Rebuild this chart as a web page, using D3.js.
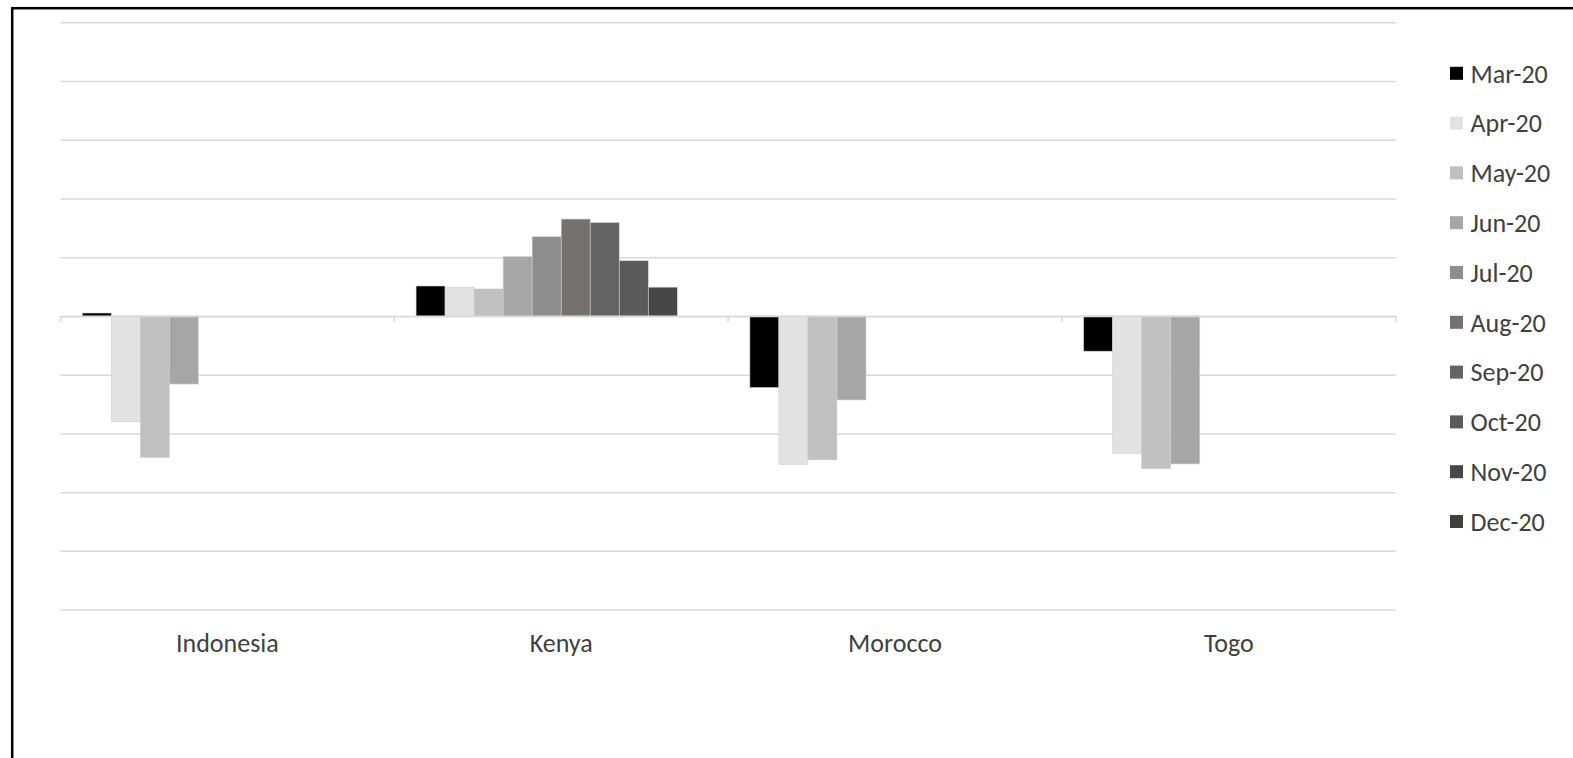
<!DOCTYPE html>
<html>
<head>
<meta charset="utf-8">
<script src="https://cdn.jsdelivr.net/npm/d3@7"></script>
<style>
  html, body { margin: 0; padding: 0; background: #fff; }
  svg { display: block; }
  text { font-family: Carlito, Calibri, "Open Sans", "Liberation Sans", sans-serif; fill: #404040; }
</style>
</head>
<body>
<svg id="chart" width="1573" height="758"></svg>
<script>
// ---- data ----
const categories = ["Indonesia", "Kenya", "Morocco", "Togo"];
const months = ["Mar-20", "Apr-20", "May-20", "Jun-20", "Jul-20", "Aug-20", "Sep-20", "Oct-20", "Nov-20", "Dec-20"];
const indonesia = [0.05, -1.80, -2.41, -1.16, null, null, null, null, null, null];
const kenya     = [0.51, 0.49, 0.46, 1.01, 1.35, 1.65, 1.59, 0.94, 0.49, null];
const morocco   = [-1.22, -2.53, -2.45, -1.43, null, null, null, null, null, null];
const togo      = [-0.60, -2.34, -2.60, -2.52, null, null, null, null, null, null];
const yTicks = [-5, -4, -3, -2, -1, 0, 1, 2, 3, 4, 5];
const colors = ["#000000", "#e2e2e2", "#c0c0c0", "#a6a6a6", "#8e8e8e", "#767171", "#646464", "#5a5a5a", "#474747", "#404040"];

const seriesByCat = { "Indonesia": indonesia, "Kenya": kenya, "Morocco": morocco, "Togo": togo };

const svg = d3.select("#chart");

// frame
svg.append("rect").attr("x", 12.2).attr("y", 8.2).attr("width", 1700).attr("height", 900)
  .attr("fill", "none").attr("stroke", "#000").attr("stroke-width", 2.5);

const plotLeft = 60.5, plotRight = 1395.7, plotTop = 22.3, plotBottom = 609.6;

const y = d3.scaleLinear().domain([-5, 5]).range([plotBottom, plotTop]);
const x0 = d3.scaleBand().domain(categories).range([plotLeft, plotRight]).paddingInner(0).paddingOuter(0);
const x1 = d3.scaleBand().domain(months).range([0, x0.bandwidth()]).paddingInner(0).paddingOuter(0.75);
const color = d3.scaleOrdinal().domain(months).range(colors);

// gridlines
const grid = svg.append("g").attr("transform", `translate(${plotLeft},0)`)
  .call(d3.axisLeft(y).tickValues(yTicks).tickSize(-(plotRight - plotLeft)).tickFormat(""));
grid.select(".domain").remove();
grid.selectAll("line").attr("stroke", "#d9d9d9").attr("stroke-width", 1.5);

// bars
const groups = svg.append("g").selectAll("g").data(categories).join("g")
  .attr("transform", d => `translate(${x0(d)},0)`);
groups.selectAll("rect")
  .data(c => months.map((m, i) => ({ m, v: seriesByCat[c][i] })).filter(d => d.v !== null))
  .join("rect")
  .attr("x", d => x1(d.m))
  .attr("width", x1.bandwidth())
  .attr("y", d => y(Math.max(0, d.v)))
  .attr("height", d => Math.abs(y(d.v) - y(0)))
  .attr("fill", d => color(d.m))
  .attr("stroke", "#d0d0d0")
  .attr("stroke-width", 0.6);

// category axis (zero line with ticks)
const xAxis = svg.append("g").attr("transform", `translate(0,${y(0)})`)
  .call(d3.axisBottom(x0).tickSize(0).tickFormat(""));
xAxis.select(".domain").attr("stroke", "#d9d9d9").attr("stroke-width", 1.5);
const bounds = [plotLeft].concat(categories.map(c => x0(c) + x0.bandwidth()));
xAxis.selectAll(".sep").data(bounds).join("line").attr("class", "sep")
  .attr("x1", d => d).attr("x2", d => d).attr("y1", 0).attr("y2", 6)
  .attr("stroke", "#d9d9d9").attr("stroke-width", 1.5);

// category labels
svg.append("g").selectAll("text").data(categories).join("text")
  .attr("x", d => x0(d) + x0.bandwidth() / 2)
  .attr("y", 652)
  .attr("text-anchor", "middle")
  .attr("font-size", 26)
  .text(d => d);

// legend
const legend = svg.append("g").selectAll("g").data(months).join("g")
  .attr("transform", (d, i) => `translate(1450,${73.3 + i * 49.8})`);
legend.append("rect").attr("x", 0).attr("y", -6.5).attr("width", 13).attr("height", 13)
  .attr("fill", d => color(d));
legend.append("text").attr("x", 20.5).attr("y", 0).attr("dy", "0.36em")
  .attr("font-size", 26).text(d => d);
</script>
</body>
</html>
